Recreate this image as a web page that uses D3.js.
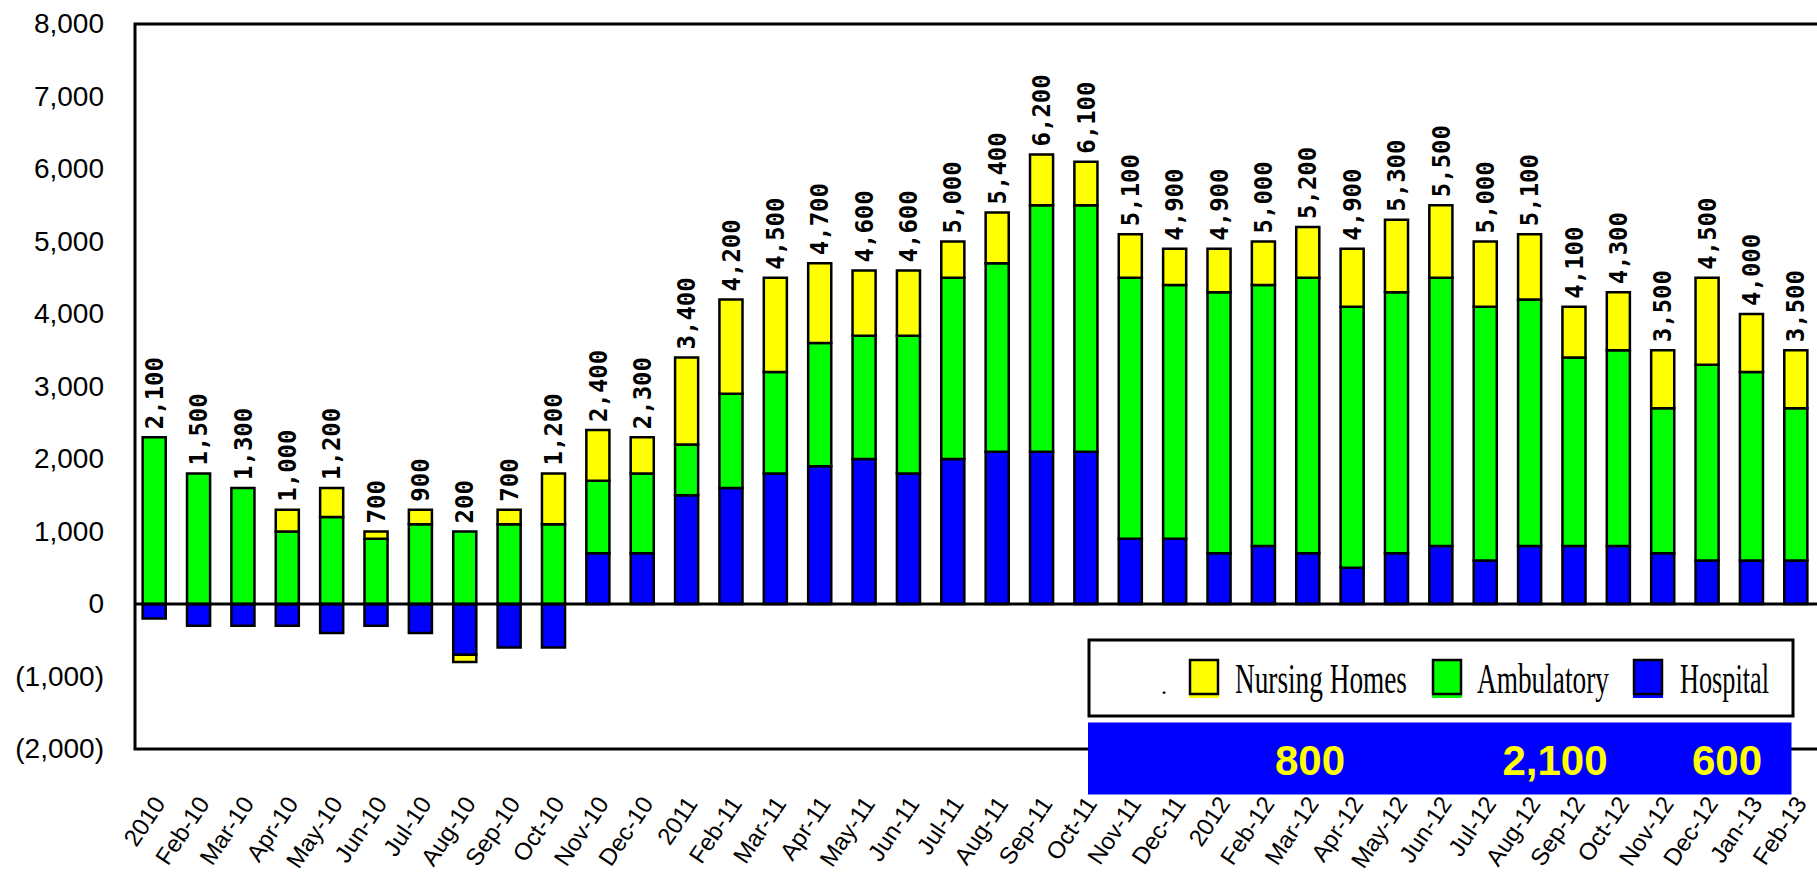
<!DOCTYPE html>
<html>
<head>
<meta charset="utf-8">
<script src="https://cdn.jsdelivr.net/npm/d3@7"></script>
<style>
body { margin: 0; background: #fff; }
svg { display: block; }
</style>
</head>
<body>
<div id="chart"></div>
<script>
// values, one per month
const months = ["2010", "Feb-10", "Mar-10", "Apr-10", "May-10", "Jun-10", "Jul-10", "Aug-10", "Sep-10", "Oct-10", "Nov-10", "Dec-10",
    "2011", "Feb-11", "Mar-11", "Apr-11", "May-11", "Jun-11", "Jul-11", "Aug-11", "Sep-11", "Oct-11", "Nov-11", "Dec-11",
    "2012", "Feb-12", "Mar-12", "Apr-12", "May-12", "Jun-12", "Jul-12", "Aug-12", "Sep-12", "Oct-12", "Nov-12", "Dec-12",
    "Jan-13", "Feb-13"];
const hospital = [-200, -300, -300, -300, -400, -300, -400, -700, -600, -600, 700, 700,
    1500, 1600, 1800, 1900, 2000, 1800, 2000, 2100, 2100, 2100, 900, 900,
    700, 800, 700, 500, 700, 800, 600, 800, 800, 800, 700, 600,
    600, 600];
const ambulatory = [2300, 1800, 1600, 1000, 1200, 900, 1100, 1000, 1100, 1100, 1000, 1100,
    700, 1300, 1400, 1700, 1700, 1900, 2500, 2600, 3400, 3400, 3600, 3500,
    3600, 3600, 3800, 3600, 3600, 3700, 3500, 3400, 2600, 2700, 2000, 2700,
    2600, 2100];
const nursingHomes = [0, 0, 0, 300, 400, 100, 200, -100, 200, 700, 700, 500,
    1200, 1300, 1300, 1100, 900, 900, 500, 700, 700, 600, 600, 500,
    600, 600, 700, 800, 1000, 1000, 900, 900, 700, 800, 800, 1200,
    800, 800];
const totals = [2100, 1500, 1300, 1000, 1200, 700, 900, 200, 700, 1200, 2400, 2300,
    3400, 4200, 4500, 4700, 4600, 4600, 5000, 5400, 6200, 6100, 5100, 4900,
    4900, 5000, 5200, 4900, 5300, 5500, 5000, 5100, 4100, 4300, 3500, 4500,
    4000, 3500];
const yTicks = [-2000, -1000, 0, 1000, 2000, 3000, 4000, 5000, 6000, 7000, 8000];
const legendNames = ["Nursing Homes", "Ambulatory", "Hospital"];
const legendKeys = ["nursing", "ambulatory", "hospital"];

const color = {hospital: "#0000ff", ambulatory: "#00ff00", nursing: "#ffff00"};

width = 1817
height = 887

const svg = d3.select("#chart")
    .append("svg")
    .attr("width", width)
    .attr("height", height);

const x = d3.scaleBand()
    .domain(months)
    .range([132, 1818])
    .paddingInner(0.48)
    .paddingOuter(0.24);

const y = d3.scaleLinear()
    .domain([-2000, 8000])
    .range([749, 24]);

const rows = months.map((m, i) => ({
    month: m,
    hospital: hospital[i],
    ambulatory: ambulatory[i],
    nursing: nursingHomes[i]
}));

const layers = d3.stack()
    .keys(["hospital", "ambulatory", "nursing"])
    .offset(d3.stackOffsetDiverging)(rows);

// plot frame, right side runs off the picture
svg.append("rect")
    .attr("x", 135)
    .attr("y", y(8000))
    .attr("width", 1700)
    .attr("height", y(-2000) - y(8000))
    .attr("fill", "none")
    .attr("stroke", "#000")
    .attr("stroke-width", 3);

// y axis labels, negatives in brackets
const fmt = d3.format(",");
svg.append("g")
    .attr("transform", "translate(104,0)")
    .call(d3.axisLeft(y)
        .tickValues(yTicks)
        .tickSize(0)
        .tickPadding(0)
        .tickFormat(d => d < 0 ? "(" + fmt(-d) + ")" : fmt(d)))
    .call(g => g.select(".domain").remove())
    .selectAll("text")
    .attr("font-family", "'Liberation Sans', Arial, sans-serif")
    .attr("font-size", 28)
    .attr("fill", "#000");

// stacked bars
svg.append("g")
    .selectAll("g")
    .data(layers)
    .join("g")
    .attr("fill", d => color[d.key])
    .selectAll("rect")
    .data(d => d.filter(s => s[0] !== s[1]))
    .join("rect")
    .attr("x", d => x(d.data.month))
    .attr("y", d => y(Math.max(d[0], d[1])))
    .attr("width", x.bandwidth())
    .attr("height", d => Math.abs(y(d[0]) - y(d[1])))
    .attr("stroke", "#000")
    .attr("stroke-width", 2.5);

// zero line
svg.append("line")
    .attr("x1", 135)
    .attr("x2", 1818)
    .attr("y1", y(0))
    .attr("y2", y(0))
    .attr("stroke", "#000")
    .attr("stroke-width", 3);

// totals written upwards above each bar
const barTop = rows.map(r => d3.sum([r.hospital, r.ambulatory, r.nursing].filter(v => v > 0)));
svg.append("g")
    .selectAll("text")
    .data(months)
    .join("text")
    .attr("transform", (m, i) => "translate(" + (x(m) + x.bandwidth() / 2) + "," + (y(barTop[i]) - 8) + ") rotate(-90)")
    .attr("dy", "0.36em")
    .attr("font-family", "'DejaVu Sans Mono', monospace")
    .attr("font-weight", "bold")
    .attr("font-size", 24)
    .attr("fill", "#000")
    .text((m, i) => fmt(totals[i]));

// month labels
svg.append("g")
    .attr("transform", "translate(0,799)")
    .call(d3.axisBottom(x).tickSize(0).tickPadding(0))
    .call(g => g.select(".domain").remove())
    .selectAll("text")
    .attr("y", 0)
    .attr("dy", "0.35em")
    .attr("transform", "translate(5,0) rotate(-56)")
    .attr("text-anchor", "end")
    .attr("font-family", "'Liberation Sans', Arial, sans-serif")
    .attr("font-size", 24)
    .attr("fill", "#000");

// legend box
const legend = svg.append("g");
legend.append("rect")
    .attr("x", 1089)
    .attr("y", 640)
    .attr("width", 704)
    .attr("height", 76)
    .attr("fill", "#fff")
    .attr("stroke", "#000")
    .attr("stroke-width", 3);

legend.append("text")
    .attr("x", 1161)
    .attr("y", 694)
    .attr("font-family", "'Liberation Serif', serif")
    .attr("font-size", 24)
    .text(".");

const swatchX = [1190, 1433, 1634];
const labelX = [1235, 1477, 1680];
const labelLen = [172, 132, 89];

legendKeys.forEach(function(k, i) {
    legend.append("rect")
        .attr("x", swatchX[i] - 1)
        .attr("y", 662)
        .attr("width", 30)
        .attr("height", 36)
        .attr("fill", color[k]);
    legend.append("rect")
        .attr("x", swatchX[i])
        .attr("y", 660)
        .attr("width", 28)
        .attr("height", 34)
        .attr("fill", color[k])
        .attr("stroke", "#000")
        .attr("stroke-width", 2.5);
    // condensed serif: squeeze horizontally to the measured width
    const t = legend.append("text")
        .attr("font-family", "'Liberation Serif', serif")
        .attr("font-size", 42)
        .attr("fill", "#000")
        .text(legendNames[i]);
    const sx = labelLen[i] / t.node().getComputedTextLength();
    t.attr("transform", "translate(" + labelX[i] + ",693) scale(" + sx + ",1)");
});

// latest month callout
const last = months.length - 1;
const latest = [nursingHomes[last], ambulatory[last], hospital[last]];
const latestX = [1310, 1555, 1727];

svg.append("rect")
    .attr("x", 1088)
    .attr("y", 722.5)
    .attr("width", 703.5)
    .attr("height", 72)
    .attr("fill", "#0000ff");

svg.append("g")
    .selectAll("text")
    .data(latest)
    .join("text")
    .attr("x", (d, i) => latestX[i])
    .attr("y", 775)
    .attr("text-anchor", "middle")
    .attr("font-family", "'Liberation Sans', Arial, sans-serif")
    .attr("font-weight", "bold")
    .attr("font-size", 42)
    .attr("fill", "#ffff00")
    .text(d => fmt(d));
</script>
</body>
</html>
